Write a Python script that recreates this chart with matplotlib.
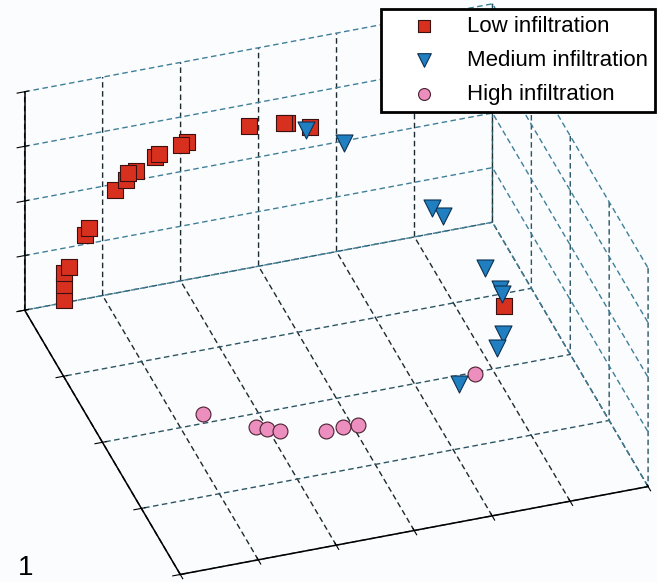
import matplotlib
matplotlib.use('Agg')
import numpy as np
from matplotlib import pyplot as plt

# estimated data values (arbitrary units)
low_x = [0.51, 0.51, 0.50, 0.57, 0.78, 0.82, 1.16, 1.30, 1.32, 1.43, 1.67, 1.72, 2.01, 2.08, 2.88, 3.32, 3.37, 3.66, 5.45]
low_y = [4.00, 4.00, 4.00, 4.00, 4.00, 4.00, 4.00, 4.00, 4.00, 4.00, 4.00, 4.00, 4.00, 4.00, 4.00, 4.00, 4.00, 4.00, 2.61]
low_z = [0.05, 0.32, 0.54, 0.64, 1.17, 1.28, 1.89, 2.04, 2.16, 2.17, 2.36, 2.40, 2.49, 2.52, 2.60, 2.54, 2.53, 2.37, 0.30]

med_x = [3.61, 4.09, 5.23, 5.37, 5.49, 5.52, 5.52, 5.25, 5.09, 4.40]
med_y = [4.00, 4.00, 4.00, 4.00, 3.18, 2.85, 2.78, 2.23, 2.05, 1.66]
med_z = [2.33, 1.96, 0.46, 0.28, 0.30, 0.30, 0.30, 0.30, 0.30, 0.30]

high_x = [1.28, 1.80, 1.91, 2.05, 2.58, 2.81, 2.99, 4.69]
high_y = [1.98, 1.67, 1.61, 1.55, 1.43, 1.44, 1.43, 1.83]
high_z = [0.20, 0.20, 0.20, 0.20, 0.20, 0.20, 0.20, 0.20]

labels = ['Low infiltration', 'Medium infiltration', 'High infiltration']

plt.rcParams['font.family'] = ['Liberation Sans', 'DejaVu Sans']
plt.rcParams['grid.linestyle'] = (0, (4, 2.5))
plt.rcParams['grid.linewidth'] = 1.0
plt.rcParams['grid.color'] = '#1c2a30'
plt.rcParams['axes.linewidth'] = 1.1
plt.rcParams['axes.edgecolor'] = 'black'

fig = plt.figure(figsize=(6.57, 5.82), dpi=100)
fig.patch.set_facecolor('#fbfcfe')
ax = fig.add_axes([0 / 657, -6 / 582, 1, 1], projection='3d', proj_type='ortho')
ax.set_facecolor('none')
ax.view_init(elev=34.4, azim=-108.4)
ax.set_box_aspect((1, 1, 0.537), zoom=1.244)

ax.scatter(low_x, low_y, low_z, marker='s', s=120, c='#d8301f', edgecolors='#3a1010',
           linewidths=0.8, depthshade=False, label=labels[0])
ax.scatter(med_x, med_y, med_z, marker='v', s=150, c='#1f7fc1', edgecolors='#0d3050',
           linewidths=0.8, depthshade=False, label=labels[1])
ax.scatter(high_x, high_y, high_z, marker='o', s=115, c='#ec8fbf', edgecolors='#4a2030',
           linewidths=0.8, depthshade=False, label=labels[2])

ax.set_xlim(0, 6)
ax.set_ylim(0, 4)
ax.set_zlim(0, 4)
ax.set_xticks(np.arange(0, 7))
ax.set_yticks(np.arange(0, 5))
ax.set_zticks(np.arange(0, 5))
ax.set_xticklabels([])
ax.set_yticklabels([])
ax.set_zticklabels([])
for axis in (ax.xaxis, ax.yaxis, ax.zaxis):
    axis.set_pane_color((1, 1, 1, 0))
    axis.pane.set_edgecolor((1, 1, 1, 0))
ax.zaxis._axinfo['grid']['color'] = '#3f7f98'
ax.yaxis._axinfo['grid']['color'] = '#2c5563'

leg = ax.legend(loc='upper right', bbox_to_anchor=(655 / 657, 1 - 9 / 582),
                bbox_transform=fig.transFigure, fontsize=16, frameon=True, fancybox=False,
                edgecolor='black', framealpha=1, borderaxespad=0, borderpad=0.3,
                handlelength=3.3, handletextpad=0.3, labelspacing=0.6, markerscale=0.8)
leg.get_frame().set_linewidth(2)

fig.text(18 / 657, 1 - 575 / 582, '1', fontsize=20, ha='left', va='baseline')

plt.savefig('out.png', dpi=100, facecolor=fig.get_facecolor())
